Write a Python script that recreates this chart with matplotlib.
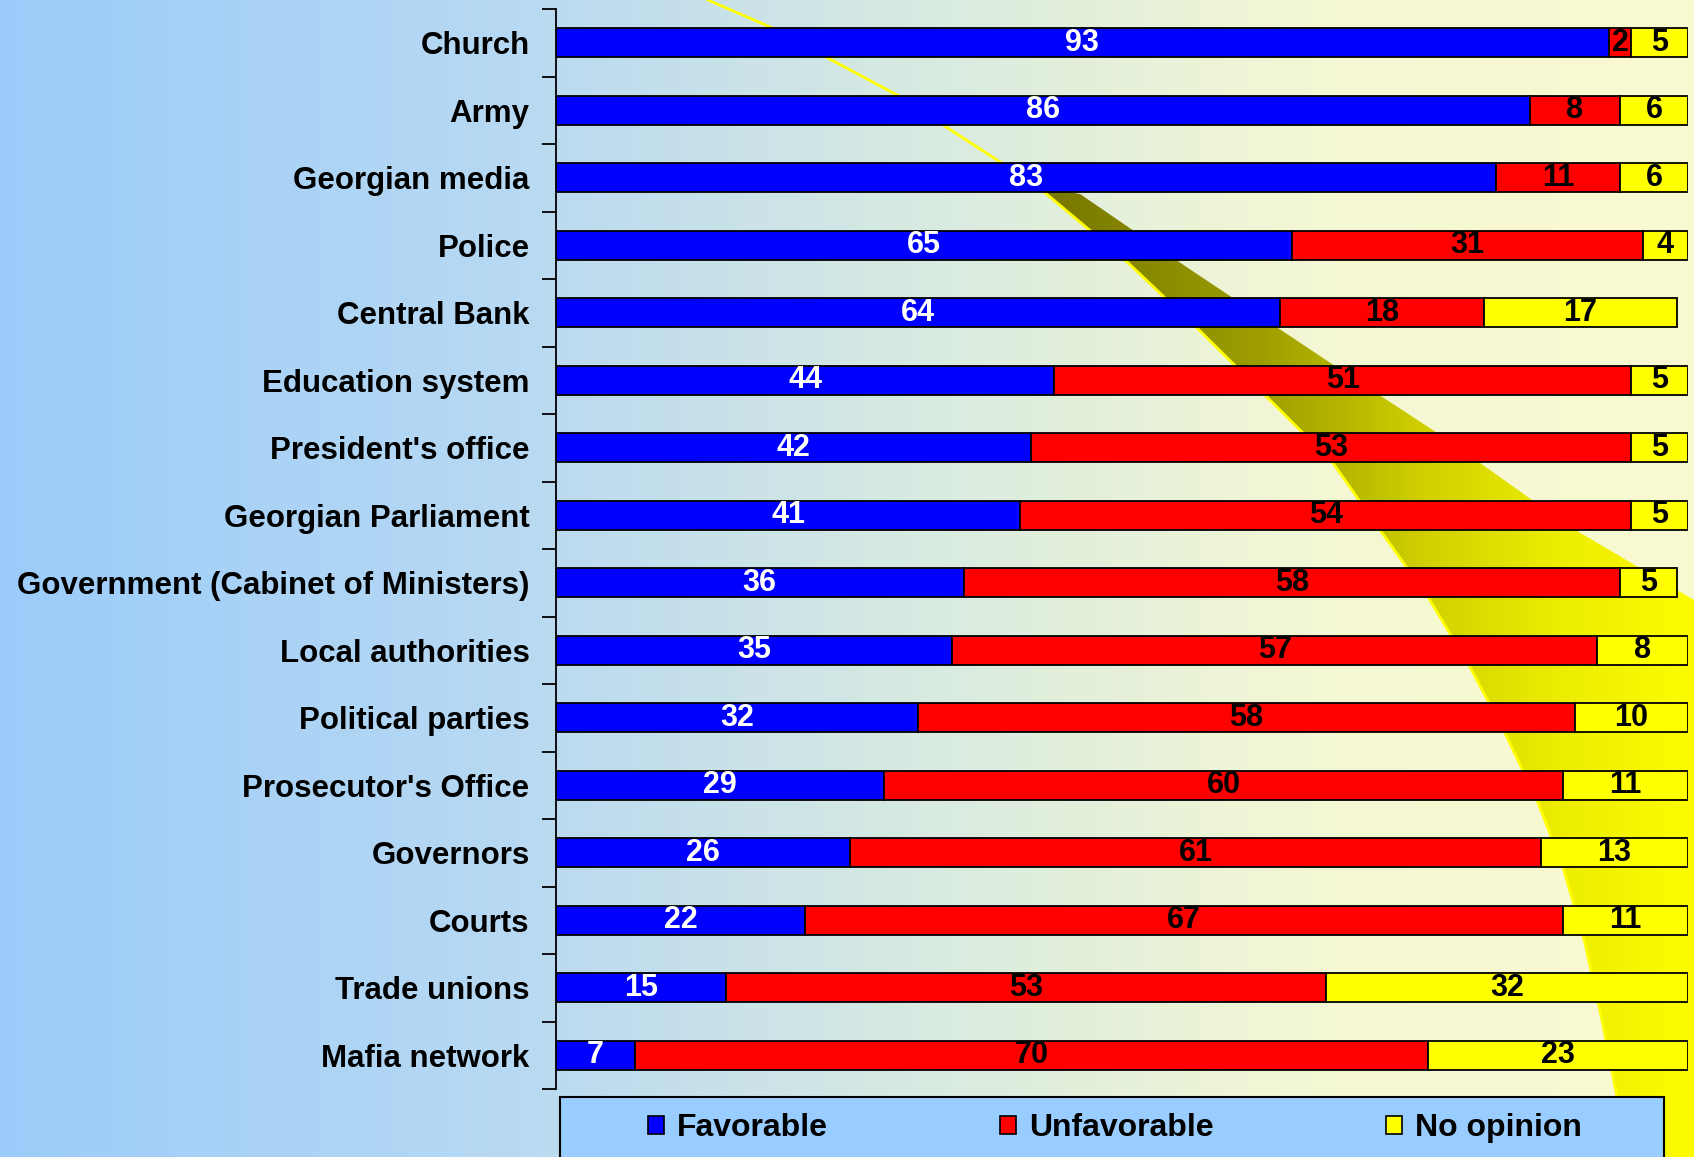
import numpy as np
import matplotlib
matplotlib.use("Agg")
import matplotlib.pyplot as plt
from matplotlib import font_manager
from matplotlib.patches import Patch, Polygon, Rectangle
from matplotlib.colors import LinearSegmentedColormap

# data (percent)
institutions = ["Church", "Army", "Georgian media", "Police", "Central Bank",
                "Education system", "President's office", "Georgian Parliament",
                "Government (Cabinet of Ministers)", "Local authorities",
                "Political parties", "Prosecutor's Office", "Governors", "Courts",
                "Trade unions", "Mafia network"]
favorable = [93, 86, 83, 65, 64, 44, 42, 41, 36, 35, 32, 29, 26, 22, 15, 7]
unfavorable = [2, 8, 11, 31, 18, 51, 53, 54, 58, 57, 58, 60, 61, 67, 53, 70]
no_opinion = [5, 6, 6, 4, 17, 5, 5, 5, 5, 8, 10, 11, 13, 11, 32, 23]
series_names = ["Favorable", "Unfavorable", "No opinion"]

W, H = 1694, 1157
installed = {f.name for f in font_manager.fontManager.ttflist}
FONT = "Liberation Sans" if "Liberation Sans" in installed else "DejaVu Sans"
NUM_FONT = "Liberation Sans Narrow" if "Liberation Sans Narrow" in installed else FONT
plt.rcParams["font.family"] = FONT

fig = plt.figure(figsize=(W / 100, H / 100), dpi=100)

# background: gradient, yellow swoosh
bg = fig.add_axes([0, 0, 1, 1], zorder=0)
bg.set_xlim(0, W)
bg.set_ylim(H, 0)
bg.axis("off")
bg_cmap = LinearSegmentedColormap.from_list("bg", [
    (0.0, (0.61, 0.80, 0.98)), (0.30, (0.72, 0.85, 0.95)),
    (0.55, (0.85, 0.92, 0.88)), (0.78, (0.96, 0.97, 0.83)),
    (1.0, (0.98, 0.98, 0.82))])
grad = np.linspace(0, 1, 512).reshape(1, -1)
bg.imshow(grad, cmap=bg_cmap, extent=(0, W, H, 0), aspect="auto", zorder=0)

left_edge = [(1037, 186), (1124, 259), (1199, 330), (1275, 405), (1333, 463),
             (1380, 530), (1428, 597), (1470, 667), (1505, 733), (1537, 800),
             (1563, 867), (1585, 943), (1602, 1020), (1617, 1097), (1627, 1157)]
right_edge = [(W, H), (W, 600), (1567, 525), (1448, 440), (1329, 362),
              (1188, 268), (1080, 194)]
swoosh = Polygon(left_edge + right_edge, closed=True, facecolor="none",
                 edgecolor="none", transform=bg.transData)
bg.add_patch(swoosh)
band_cmap = LinearSegmentedColormap.from_list("band", [
    (0.0, (0.45, 0.45, 0.0)), (0.35, (0.62, 0.62, 0.0)),
    (0.6, (0.82, 0.82, 0.0)), (0.8, (0.93, 0.93, 0.0)), (1.0, (0.99, 0.99, 0.0))])
band = np.linspace(0, 1, 256).reshape(1, -1)
im = bg.imshow(band, cmap=band_cmap, extent=(1030, W, H, 0), aspect="auto", zorder=1)
im.set_clip_path(swoosh)
lx, ly = zip(*left_edge)
bg.plot(lx, ly, color="#FFFF00", lw=2, zorder=2)
bg.plot([708, 770, 897, 1037], [0, 27, 95, 186], color="#FFFF00", lw=2, zorder=2)

# legend frame
bg.add_patch(Rectangle((560, 1097), 1104, 80, facecolor="#99CCFF",
                       edgecolor="black", lw=1.5, zorder=3))

# main chart
ax = fig.add_axes([556 / W, 1 - 1089 / H, 1132 / W, 1080 / H], zorder=1)
ax.set_facecolor("none")
y = np.arange(len(institutions))
colors = ["#0000FF", "#FF0000", "#FFFF00"]
text_colors = ["white", "black", "black"]
left = np.zeros(len(institutions))
for vals, name, col, tcol in zip([favorable, unfavorable, no_opinion],
                                 series_names, colors, text_colors):
    bars = ax.barh(y, vals, left=left, height=0.43, color=col, edgecolor="black",
                   linewidth=1.3, label=name)
    ax.bar_label(bars, labels=[str(v) for v in vals], label_type="center",
                 color=tcol, fontsize=22, fontweight="bold", family=NUM_FONT)
    left += np.array(vals)

ax.set_xlim(0, 100)
ax.set_ylim(len(institutions) - 0.5, -0.5)
ax.set_yticks(np.arange(-0.5, len(institutions)), labels=[])
ax.set_yticks(y, labels=institutions, minor=True)
ax.tick_params(axis="y", which="major", length=10, width=1.3, direction="out")
ax.tick_params(axis="y", which="minor", length=0, pad=19, labelsize=22.5)
for lab in ax.get_yticklabels(minor=True):
    lab.set_fontweight("bold")
ax.set_xticks([])
for side in ["top", "right", "bottom"]:
    ax.spines[side].set_visible(False)
ax.spines["left"].set_linewidth(1.3)

handles = [Patch(facecolor=c, edgecolor="black", lw=1.2) for c in colors]
fig.legend(handles, series_names, loc="center left", ncol=3, mode="expand",
           bbox_to_anchor=(648 / W, 1 - 1128 / H, (1582 - 648) / W, 0),
           frameon=False, borderpad=0, borderaxespad=0,
           handlelength=0.5, handleheight=0.5, handletextpad=0.4,
           prop={"size": 23, "weight": "bold"})

fig.savefig("out.png", dpi=100)
